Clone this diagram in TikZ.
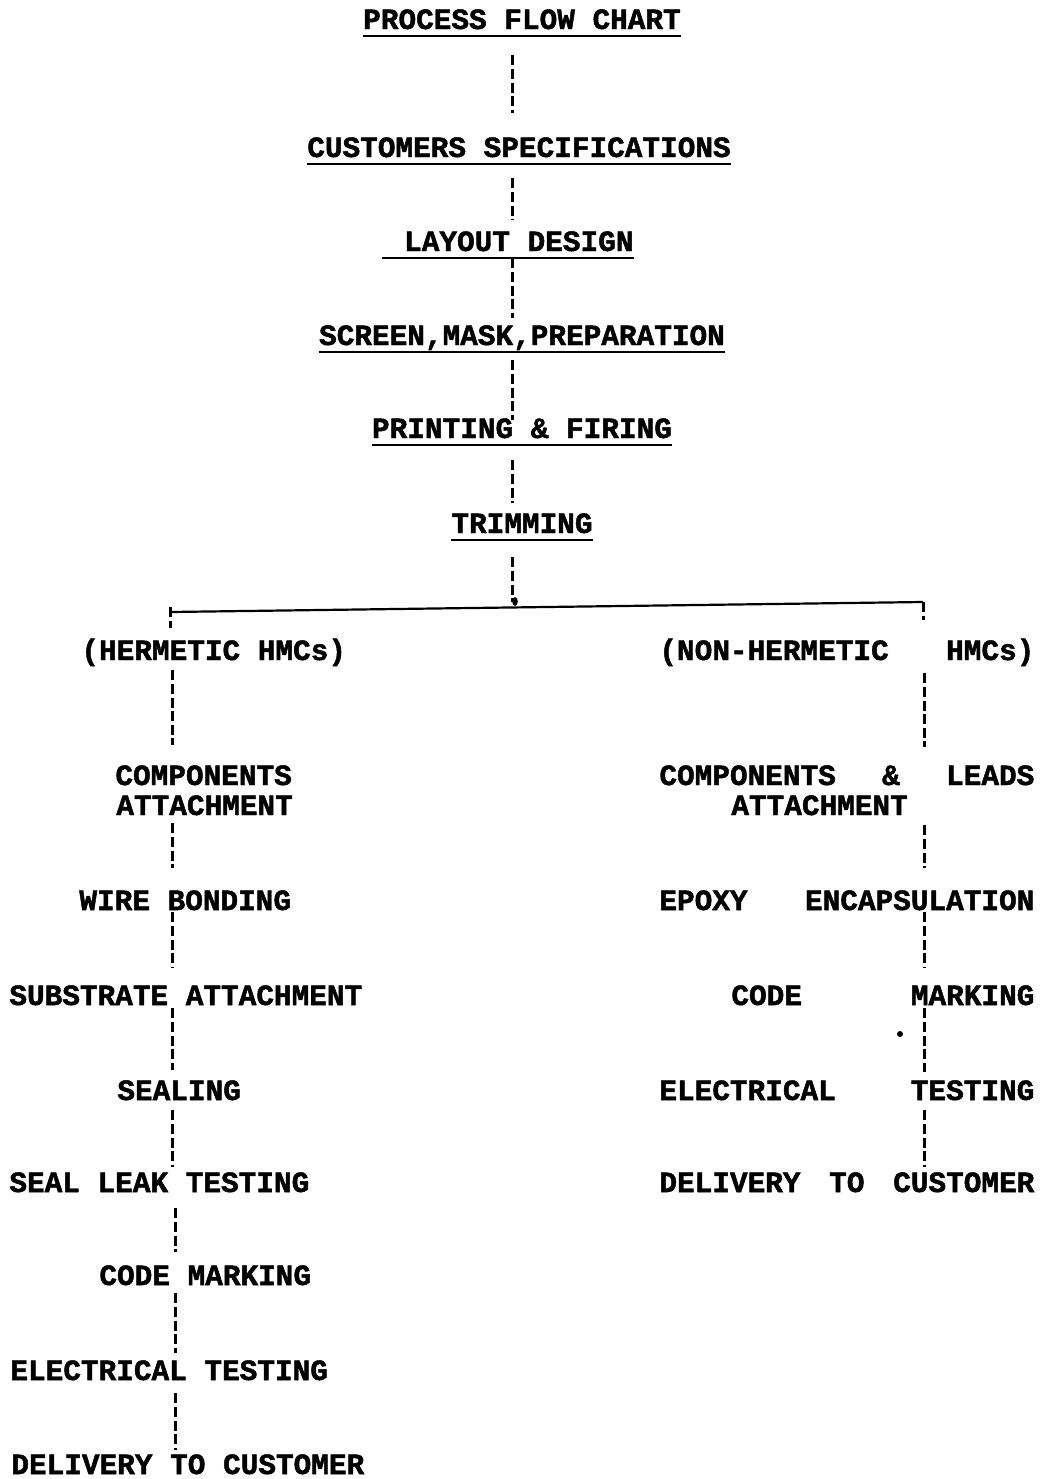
\documentclass[tikz,border=0pt]{standalone}
\usepackage{fontspec}
\newfontfamily\tw{Liberation Mono}[BoldFeatures={FakeBold=1.6}]
\begin{document}
\begin{tikzpicture}[x=0.5pt,y=-0.5pt,
  lbl/.style={inner sep=0pt, text height=9pt, text depth=1pt,
    font=\tw\bfseries\fontsize{14.7pt}{15pt}\selectfont},
  ctr/.style={lbl, anchor=base},
  lft/.style={lbl, anchor=base west},
  uline/.style={line width=1.2pt},
  dl/.style={line width=1.5pt, dash pattern=on 5pt off 1.8pt},
  hl/.style={line width=1.1pt}]
\useasboundingbox (0,0) rectangle (1043,1479);
% spines
\coordinate (ms) at (512,0);
\coordinate (ls) at (172,0);
\coordinate (ls2) at (175,0);
\coordinate (rs) at (924,0);
% main column
\node[ctr] (t0) at (522,29) {PROCESS FLOW CHART};
\node[ctr] (t1) at (519,157) {CUSTOMERS SPECIFICATIONS};
\node[ctr] (t2) at (508,251) {\makebox[125.5pt][r]{LAYOUT DESIGN}};
\node[ctr] (t3) at (522,345) {SCREEN,MASK,PREPARATION};
\node[ctr] (t4) at (522,438) {PRINTING \& FIRING};
\node[ctr] (t5) at (522,533) {TRIMMING};
\foreach \n in {t0,t1,t2,t3,t4,t5}
  \draw[uline] ([yshift=-3.6pt]\n.base west) -- ([yshift=-3.6pt]\n.base east);
\draw[dl, shorten <=12pt, shorten >=13pt] (t0.south -| ms) -- (t1.north -| ms);
\draw[dl, shorten <=9.5pt, shorten >=6.5pt] (t1.south -| ms) -- (t2.north -| ms);
\draw[dl, shorten <=2.5pt, shorten >=4.5pt] (t2.south -| ms) -- (t3.north -| ms);
\draw[dl, shorten <=6.5pt, shorten >=0pt] (t3.south -| ms) -- (t4.north -| ms);
\draw[dl, shorten <=10pt, shorten >=6pt] (t4.south -| ms) -- (t5.north -| ms);
% junction
\coordinate (jl) at (170,612);
\coordinate (jr) at (923,602);
\coordinate (jm) at (512,607.5);
\draw[dl, shorten <=11pt, shorten >=3pt] (t5.south -| ms) -- (jm);
\fill ([xshift=1.5pt,yshift=3pt]jm) ellipse (1.4pt and 2.2pt);
\draw[hl] (jl) -- (jr);
% left branch
\node[lft] (h0) at (81,660) {(HERMETIC HMCs)};
\node[lft] (h1) at (115,785) {COMPONENTS};
\node[lft] (h2) at (116,815) {ATTACHMENT};
\node[lft] (h3) at (79,910) {WIRE BONDING};
\node[lft] (h4) at (9,1005) {SUBSTRATE ATTACHMENT};
\node[lft] (h5) at (117,1100) {SEALING};
\node[lft] (h6) at (9,1192) {SEAL LEAK TESTING};
\node[lft] (h7) at (99,1285) {CODE MARKING};
\node[lft] (h8) at (10,1380) {ELECTRICAL TESTING};
\node[lft] (h9) at (11,1474) {DELIVERY TO CUSTOMER};
\draw[dl, shorten >=7pt] ([yshift=2.5pt]jl) -- (h0.north -| jl);
\draw[dl, shorten <=4pt, shorten >=11pt] (h0.south -| ls) -- (h1.north -| ls);
\draw[dl, shorten <=3pt, shorten >=12pt] (h2.south -| ls) -- (h3.north -| ls);
\draw[dl, shorten <=0pt, shorten >=9.5pt] (h3.south -| ls) -- (h4.north -| ls);
\draw[dl, shorten <=0.5pt, shorten >=6pt] (h4.south -| ls) -- (h5.north -| ls);
\draw[dl, shorten <=4pt, shorten >=3.5pt] (h5.south -| ls) -- (h6.north -| ls);
\draw[dl, shorten <=7pt, shorten >=7.5pt] (h6.south -| ls2) -- (h7.north -| ls2);
\draw[dl, shorten <=3pt, shorten >=4.5pt] (h7.south -| ls2) -- (h8.north -| ls2);
\draw[dl, shorten <=5.5pt, shorten >=3pt] (h8.south -| ls2) -- (h9.north -| ls2);
% right branch
\node[lft] (r0) at (659,660) {\makebox[187.5pt][s]{(NON-HERMETIC\hfill HMCs)}};
\node[lft] (r1) at (659,785) {\makebox[187.5pt][s]{COMPONENTS\hfill\&\hfill LEADS}};
\node[lft] (r2) at (731,815) {ATTACHMENT};
\node[lft] (r3) at (659,910) {\makebox[187.5pt][s]{EPOXY\hfill ENCAPSULATION}};
\node[lft] (r4) at (731,1005) {\makebox[151.5pt][s]{CODE\hfill MARKING}};
\node[lft] (r5) at (659,1100) {\makebox[187.5pt][s]{ELECTRICAL\hfill TESTING}};
\node[lft] (r6) at (659,1192) {\makebox[187.5pt][s]{DELIVERY\hfill TO\hfill CUSTOMER}};
\draw[dl, shorten >=11pt] (jr) -- (r0.north -| jr);
\draw[dl, shorten <=5.5pt, shorten >=10pt] (r0.south -| rs) -- (r1.north -| rs);
\draw[dl, shorten <=4pt, shorten >=12pt] (r2.south -| rs) -- (r3.north -| rs);
\draw[dl, shorten <=0pt, shorten >=9.5pt] (r3.south -| rs) -- (r4.north -| rs);
\draw[dl, shorten <=0.5pt, shorten >=5pt] (r4.south -| rs) -- (r5.north -| rs);
\draw[dl, shorten <=4pt, shorten >=3.5pt] (r5.south -| rs) -- (r6.north -| rs);
\fill (900,1034) circle (1.5pt);
\end{tikzpicture}
\end{document}
